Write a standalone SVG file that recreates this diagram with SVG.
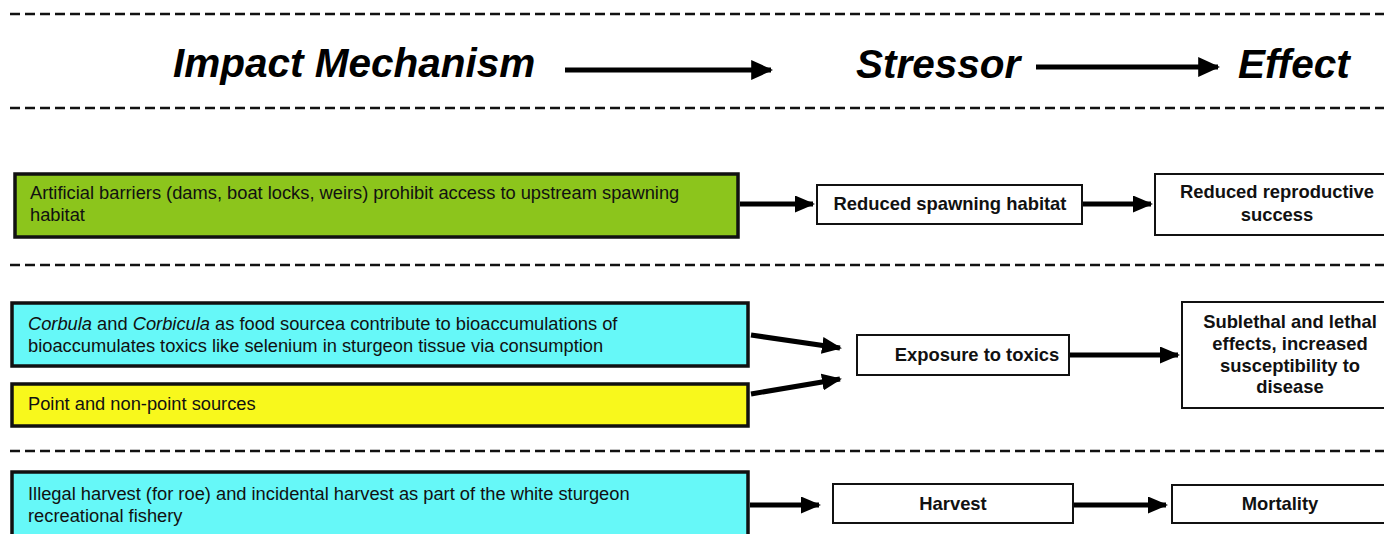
<svg xmlns="http://www.w3.org/2000/svg" width="1384" height="534" viewBox="0 0 1384 534">
  <style>
    .dash { stroke: #111; stroke-width: 2.5; stroke-dasharray: 10 5; fill: none; }
    .hdr { font-family: "Liberation Sans", Arial, sans-serif; font-weight: bold; font-style: italic; font-size: 40.5px; fill: #000; }
    .mech { stroke: #111; stroke-width: 3.5; }
    .box { fill: #fff; stroke: #111; stroke-width: 2; }
    .mtxt { font-family: "Liberation Sans", Arial, sans-serif; font-size: 18.3px; fill: #111; }
    .btxt { font-family: "Liberation Sans", Arial, sans-serif; font-weight: bold; font-size: 18.4px; fill: #111; text-anchor: middle; }
    .conn { stroke: #000; stroke-width: 5; fill: none; marker-end: url(#head); }
    .hconn { stroke: #000; stroke-width: 5; fill: none; marker-end: url(#bighead); }
  </style>
  <defs>
    <marker id="head" viewBox="0 0 10 10" refX="9" refY="5" markerWidth="4" markerHeight="3.4" orient="auto" markerUnits="strokeWidth" preserveAspectRatio="none">
      <path d="M0,0 L10,5 L0,10 z" fill="#000"/>
    </marker>
    <marker id="bighead" viewBox="0 0 10 10" refX="9" refY="5" markerWidth="4.4" markerHeight="4" orient="auto" markerUnits="strokeWidth" preserveAspectRatio="none">
      <path d="M0,0 L10,5 L0,10 z" fill="#000"/>
    </marker>
  </defs>
  <rect width="1384" height="534" fill="#fff"/>

  <!-- separators -->
  <g id="separators">
    <line class="dash" x1="10" y1="14" x2="1384" y2="14"/>
    <line class="dash" x1="10" y1="108" x2="1384" y2="108"/>
    <line class="dash" x1="10" y1="265" x2="1384" y2="265"/>
    <line class="dash" x1="10" y1="451" x2="1384" y2="451"/>
  </g>

  <!-- column headings -->
  <g id="heading">
    <text class="hdr" x="173" y="77">Impact Mechanism</text>
    <text class="hdr" x="856" y="78">Stressor</text>
    <text class="hdr" x="1238" y="78">Effect</text>
  </g>

  <!-- nodes -->
  <g id="barriers">
    <rect class="mech" x="15" y="174" width="723" height="63" fill="#8cc51c"/>
    <text class="mtxt" x="30" y="199">Artificial barriers (dams, boat locks, weirs) prohibit access to upstream spawning</text>
    <text class="mtxt" x="30" y="221">habitat</text>
  </g>
  <g id="spawning-habitat">
    <rect class="box" x="817" y="185" width="265" height="39"/>
    <text class="btxt" x="950" y="210">Reduced spawning habitat</text>
  </g>
  <g id="reproductive-success">
    <rect class="box" x="1155" y="174" width="235" height="61"/>
    <text class="btxt" x="1277" y="198">Reduced reproductive</text>
    <text class="btxt" x="1277" y="221">success</text>
  </g>

  <g id="clams">
    <rect class="mech" x="12" y="303" width="736" height="63" fill="#66f8f8"/>
    <text class="mtxt" x="28" y="330"><tspan font-style="italic">Corbula</tspan> and <tspan font-style="italic">Corbicula</tspan>  as food sourcea contribute to bioaccumulations of</text>
    <text class="mtxt" x="28" y="352">bioaccumulates toxics like selenium in sturgeon tissue via consumption</text>
  </g>
  <g id="point-sources">
    <rect class="mech" x="12" y="384" width="736" height="42" fill="#f8f81c"/>
    <text class="mtxt" x="28" y="410">Point and non-point sources</text>
  </g>
  <g id="toxics">
    <rect class="box" x="857" y="335" width="212" height="40"/>
    <text class="btxt" x="977" y="361">Exposure to toxics</text>
  </g>
  <g id="sublethal">
    <rect class="box" x="1182" y="302" width="208" height="106"/>
    <text class="btxt" x="1290" y="328">Sublethal and lethal</text>
    <text class="btxt" x="1290" y="350">effects, increased</text>
    <text class="btxt" x="1290" y="372">susceptibility to</text>
    <text class="btxt" x="1290" y="393">disease</text>
  </g>

  <g id="illegal-harvest">
    <rect class="mech" x="12" y="472" width="736" height="70" fill="#66f8f8"/>
    <text class="mtxt" x="28" y="500">Illegal harvest (for roe) and incidental harvest as part of the white sturgeon</text>
    <text class="mtxt" x="28" y="522">recreational fishery</text>
  </g>
  <g id="harvest">
    <rect class="box" x="833" y="484" width="240" height="39"/>
    <text class="btxt" x="953" y="510">Harvest</text>
  </g>
  <g id="mortality">
    <rect class="box" x="1172" y="485" width="218" height="38"/>
    <text class="btxt" x="1280" y="510">Mortality</text>
  </g>

  <!-- connectors -->
  <g id="connectors">
    <line class="hconn" x1="565" y1="70" x2="771" y2="70"/>
    <line class="hconn" x1="1036" y1="67" x2="1218" y2="67"/>
    <line class="conn" x1="740" y1="204" x2="813" y2="204"/>
    <line class="conn" x1="1083" y1="204" x2="1151" y2="204"/>
    <line class="conn" x1="751" y1="335" x2="840" y2="348"/>
    <line class="conn" x1="751" y1="394" x2="840" y2="379"/>
    <line class="conn" x1="1070" y1="355" x2="1178" y2="355"/>
    <line class="conn" x1="750" y1="505" x2="819" y2="505"/>
    <line class="conn" x1="1074" y1="505" x2="1166" y2="505"/>
  </g>
</svg>
